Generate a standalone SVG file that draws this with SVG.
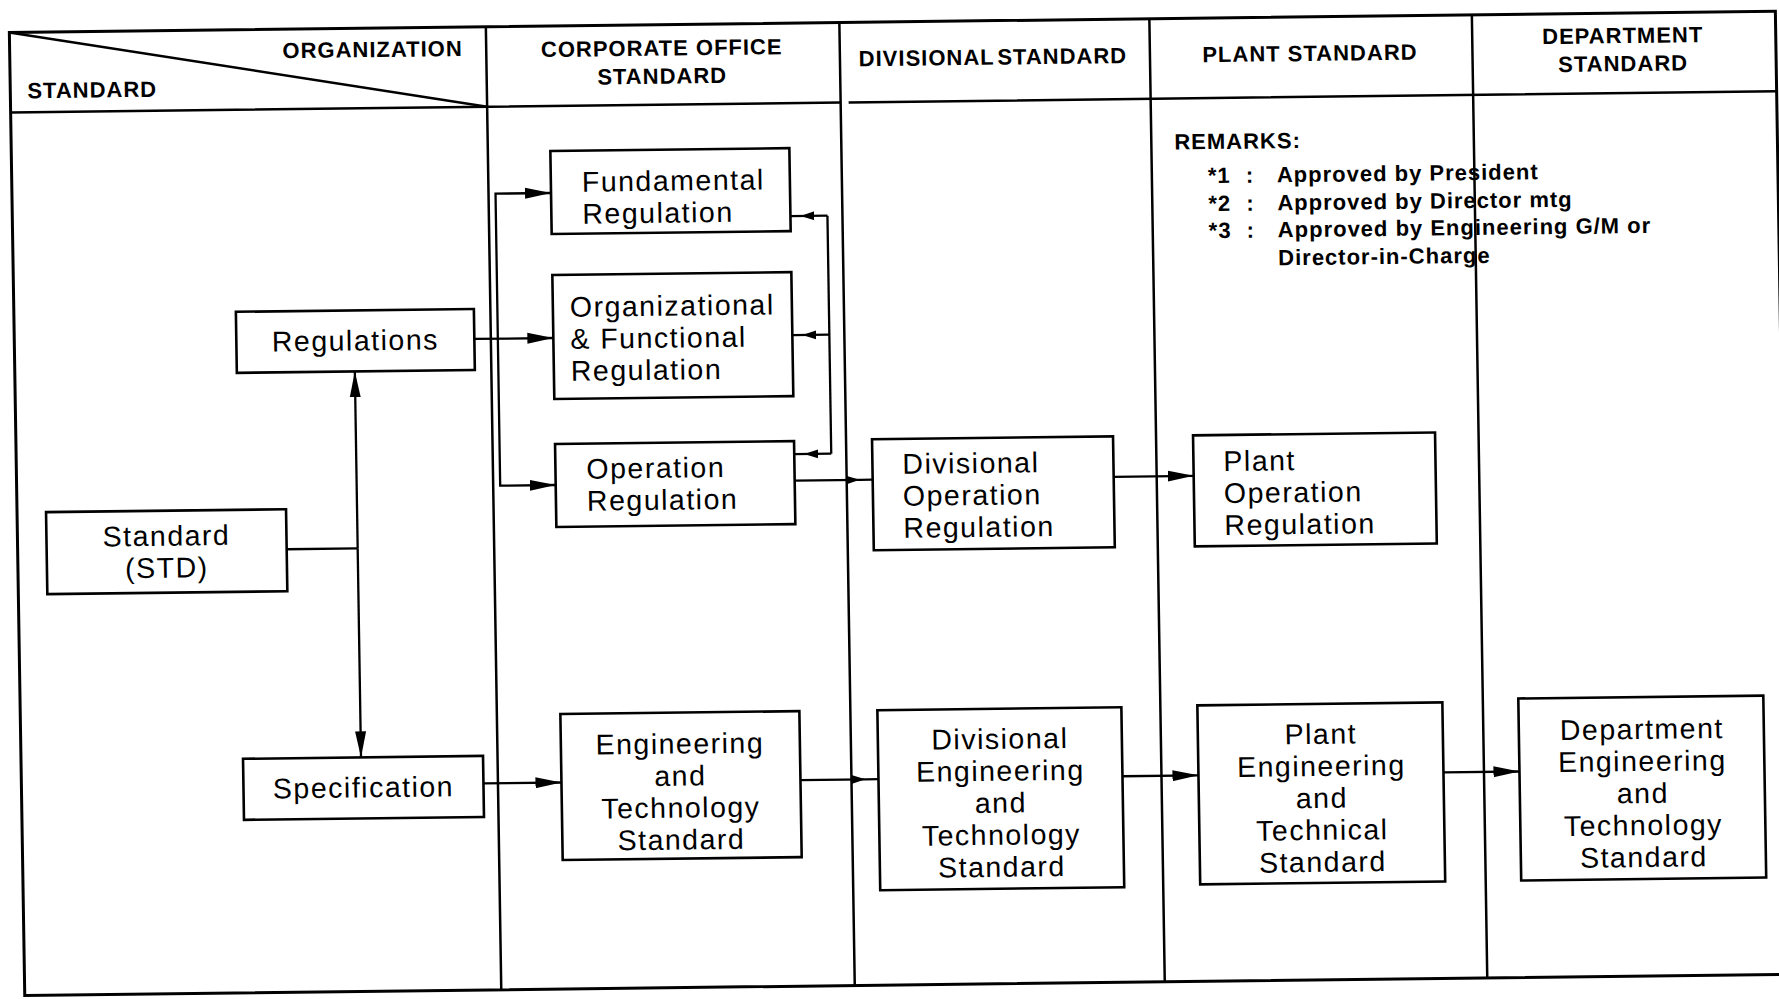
<svg xmlns="http://www.w3.org/2000/svg" width="1779" height="999" viewBox="0 0 1779 999">
  <style>
    .frame { fill: none; stroke: #000; stroke-width: 3; }
    .rule { fill: none; stroke: #000; stroke-width: 2.5; }
    .box { fill: #fff; stroke: #000; stroke-width: 2.6; }
    .conn { fill: none; stroke: #000; stroke-width: 2.3; }
    .hdr { font-family: "Liberation Sans", Arial, sans-serif; font-weight: bold; font-size: 22px; letter-spacing: 1px; fill: #000; }
    .lbl { font-family: "Liberation Sans", Arial, sans-serif; font-size: 28.5px; letter-spacing: 1.5px; fill: #000; }
    .mid { text-anchor: middle; }
  </style>
  <defs>
    <marker id="arrow" markerUnits="userSpaceOnUse" markerWidth="28" markerHeight="12" refX="26" refY="6" orient="auto">
      <path d="M0,0.5 L26,6 L0,11.5 z" fill="#000"/>
    </marker>
    <marker id="arrowSmall" markerUnits="userSpaceOnUse" markerWidth="16" markerHeight="10" refX="14" refY="5" orient="auto">
      <path d="M0,0.5 L14,5 L0,9.5 z" fill="#000"/>
    </marker>
    <marker id="arrowBack" markerUnits="userSpaceOnUse" markerWidth="26" markerHeight="10" refX="24" refY="5" orient="auto">
      <path d="M0,0.5 L14,5 L0,9.5 z" fill="#000"/>
    </marker>
  </defs>

  <rect x="0" y="0" width="1779" height="999" fill="#fff"/>

  <!-- whole sheet is printed slightly skewed -->
  <g transform="matrix(1,-0.012,0.016,1,-8,10.68)">

    <!-- table grid -->
    <g id="grid">
      <rect class="frame" x="17" y="22" width="1766" height="963"/>
      <path class="rule" d="M17,102 H847 M855,102 H1783"/>
      <path class="rule" d="M17,22 L493.5,102"/>
      <path class="rule" d="M493.5,22 V985 M847,22 V985 M1157,22 V985 M1479.5,22 V985"/>
    </g>

    <!-- column headings -->
    <g id="headings">
      <text class="hdr" x="470" y="51" text-anchor="end">ORGANIZATION</text>
      <text class="hdr" x="34" y="88">STANDARD</text>
      <text class="hdr mid" x="669" y="53">CORPORATE OFFICE</text>
      <text class="hdr mid" x="669" y="81">STANDARD</text>
      <text class="hdr mid" x="1000" y="66" word-spacing="-4">DIVISIONAL STANDARD</text>
      <text class="hdr mid" x="1317" y="66">PLANT STANDARD</text>
      <text class="hdr mid" x="1630" y="52">DEPARTMENT</text>
      <text class="hdr mid" x="1630" y="80">STANDARD</text>
    </g>

    <!-- remarks -->
    <g id="remarks">
      <text class="hdr" x="1180" y="153">REMARKS:</text>
      <text class="hdr" x="1213" y="187">*1</text>
      <text class="hdr" x="1251" y="187">:</text>
      <text class="hdr" x="1282" y="187">Approved by President</text>
      <text class="hdr" x="1213" y="215">*2</text>
      <text class="hdr" x="1251" y="215">:</text>
      <text class="hdr" x="1282" y="215">Approved by Director mtg</text>
      <text class="hdr" x="1213" y="242">*3</text>
      <text class="hdr" x="1251" y="242">:</text>
      <text class="hdr" x="1282" y="242">Approved by Engineering G/M or</text>
      <text class="hdr" x="1282" y="270">Director-in-Charge</text>
    </g>

    <!-- connectors -->
    <g id="connectors">
      <path class="conn" d="M286,542 H357"/>
      <path class="conn" d="M357,542 V365" marker-end="url(#arrow)"/>
      <path class="conn" d="M357,542 V751" marker-end="url(#arrow)"/>
      <path class="conn" d="M477,334 H556" marker-end="url(#arrow)"/>
      <path class="conn" d="M500.5,334 V189 H556" marker-end="url(#arrow)"/>
      <path class="conn" d="M500.5,334 V481 H556" marker-end="url(#arrow)"/>
      <path class="conn" d="M832,215 V453"/>
      <path class="conn" d="M832,215 H795" marker-end="url(#arrowBack)"/>
      <path class="conn" d="M832,334 H795" marker-end="url(#arrowBack)"/>
      <path class="conn" d="M832,453 H795" marker-end="url(#arrowBack)"/>
      <polyline class="conn" points="795,479.5 860,479.5 873,479.5" marker-mid="url(#arrowSmall)"/>
      <path class="conn" d="M1114,479.5 H1194" marker-end="url(#arrow)"/>
      <path class="conn" d="M479,778.5 H557" marker-end="url(#arrow)"/>
      <polyline class="conn" points="796,779 861,779 874,779" marker-mid="url(#arrowSmall)"/>
      <path class="conn" d="M1118,779 H1194" marker-end="url(#arrow)"/>
      <path class="conn" d="M1439,779 H1515" marker-end="url(#arrow)"/>
    </g>

    <!-- nodes -->
    <g id="regulations">
      <rect class="box" x="239" y="304" width="238" height="61"/>
      <text class="lbl mid" x="358" y="344">Regulations</text>
    </g>
    <g id="standard">
      <rect class="box" x="46" y="502" width="240" height="82"/>
      <text class="lbl mid" x="166" y="537">Standard</text>
      <text class="lbl mid" x="166" y="569">(STD)</text>
    </g>
    <g id="specification">
      <rect class="box" x="239" y="751" width="240" height="61"/>
      <text class="lbl mid" x="359" y="791">Specification</text>
    </g>
    <g id="fundamental-regulation">
      <rect class="box" x="556" y="147" width="239" height="83"/>
      <text class="lbl" x="587" y="188">Fundamental</text>
      <text class="lbl" x="587" y="220">Regulation</text>
    </g>
    <g id="organizational-regulation">
      <rect class="box" x="556" y="271" width="239" height="124"/>
      <text class="lbl" x="573" y="313">Organizational</text>
      <text class="lbl" x="573" y="345">&amp; Functional</text>
      <text class="lbl" x="573" y="377">Regulation</text>
    </g>
    <g id="operation-regulation">
      <rect class="box" x="556" y="440" width="239" height="83"/>
      <text class="lbl" x="587" y="475">Operation</text>
      <text class="lbl" x="587" y="507">Regulation</text>
    </g>
    <g id="divisional-operation">
      <rect class="box" x="873" y="439" width="241" height="111"/>
      <text class="lbl" x="903" y="474">Divisional</text>
      <text class="lbl" x="903" y="506">Operation</text>
      <text class="lbl" x="903" y="538">Regulation</text>
    </g>
    <g id="plant-operation">
      <rect class="box" x="1194" y="439" width="242" height="111"/>
      <text class="lbl" x="1224" y="475">Plant</text>
      <text class="lbl" x="1224" y="507">Operation</text>
      <text class="lbl" x="1224" y="539">Regulation</text>
    </g>
    <g id="engineering-standard">
      <rect class="box" x="557" y="710" width="239" height="146"/>
      <text class="lbl mid" x="676" y="751">Engineering</text>
      <text class="lbl mid" x="676" y="783">and</text>
      <text class="lbl mid" x="676" y="815">Technology</text>
      <text class="lbl mid" x="676" y="847">Standard</text>
    </g>
    <g id="divisional-engineering">
      <rect class="box" x="874" y="710" width="244" height="180"/>
      <text class="lbl mid" x="996" y="750">Divisional</text>
      <text class="lbl mid" x="996" y="782">Engineering</text>
      <text class="lbl mid" x="996" y="814">and</text>
      <text class="lbl mid" x="996" y="846">Technology</text>
      <text class="lbl mid" x="996" y="878">Standard</text>
    </g>
    <g id="plant-engineering">
      <rect class="box" x="1194" y="709" width="245" height="179"/>
      <text class="lbl mid" x="1317" y="749">Plant</text>
      <text class="lbl mid" x="1317" y="781">Engineering</text>
      <text class="lbl mid" x="1317" y="813">and</text>
      <text class="lbl mid" x="1317" y="845">Technical</text>
      <text class="lbl mid" x="1317" y="877">Standard</text>
    </g>
    <g id="department-engineering">
      <rect class="box" x="1515" y="706" width="245" height="182"/>
      <text class="lbl mid" x="1638" y="748">Department</text>
      <text class="lbl mid" x="1638" y="780">Engineering</text>
      <text class="lbl mid" x="1638" y="812">and</text>
      <text class="lbl mid" x="1638" y="844">Technology</text>
      <text class="lbl mid" x="1638" y="876">Standard</text>
    </g>
  </g>
</svg>
